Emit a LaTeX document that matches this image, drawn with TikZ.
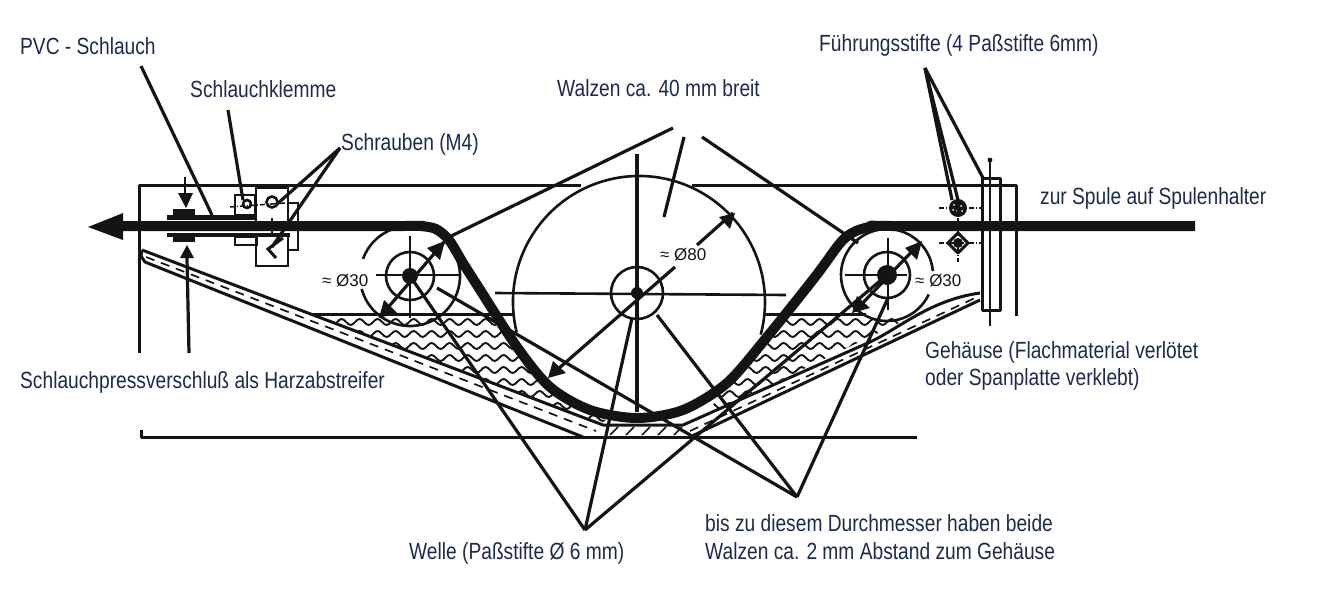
\documentclass[tikz,border=0pt]{standalone}
\usepackage{fontspec}
\setmainfont[FakeStretch=0.82]{Liberation Sans}
\newfontfamily\dimfont[FakeStretch=1.0]{Liberation Sans}
\usetikzlibrary{decorations.pathmorphing,calc}
\definecolor{txt}{HTML}{1B2A4E}
\definecolor{ink}{HTML}{141414}
\tikzset{
  lbl/.style={font=\fontsize{23.4}{27.5}\selectfont,text=txt,inner sep=0pt,anchor=west,align=left},
  dim/.style={font=\dimfont\fontsize{17}{20}\selectfont,text=ink,inner sep=0pt,anchor=west},
  body/.style={draw=ink,line width=3pt,line join=round},
  thinl/.style={draw=ink,line width=2.6pt},
  leader/.style={draw=ink,line width=3.2pt},
  belt/.style={draw=ink,line width=10pt,line join=round},
  wave/.style={draw=ink,line width=1.9pt,decorate,decoration={snake,amplitude=3pt,segment length=18pt}},
  hatchl/.style={draw=ink,line width=1.7pt,dash pattern=on 9pt off 7pt},
  chain/.style={draw=ink,line width=1.5pt,dash pattern=on 5pt off 2pt on 1pt off 2pt},
  head/.style={fill=ink,draw=none}
}
\begin{document}
\begin{tikzpicture}[x=1pt,y=-1pt]
\useasboundingbox (0,0) rectangle (1336,602);
% resin, left and right
\begin{scope}
\clip (310,314) -- (496,314) -- (517,347) -- (550,387) -- (590,410) -- (606,421) -- (603,425) -- cycle;
\foreach \y in {322,334,...,425} \draw[wave] (300,\y) -- (620,\y);
\end{scope}
\begin{scope}
\clip (786,314) -- (866,314) -- (905,320) -- (683,427) -- (700,418) -- (727,390) -- (767,345) -- cycle;
\foreach \y in {322,334,...,425} \draw[wave] (670,\y) -- (920,\y);
\end{scope}
% hatch in the trough wall
\draw[hatchl] (146,257) -- (596,431);
\draw[hatchl] (690,431) -- (975,298);
\foreach \x in {610,626,...,674} \draw[draw=ink,line width=1.6pt] (\x,435) -- (\x+8,427);
% housing
\draw[body] (139,353) -- (139,185) -- (581,185);
\draw[body] (692,185) -- (1016,185) -- (1016,316);
\draw[body] (141,430) -- (141,437) -- (917,437);
\draw[body] (142,250) -- (603,425) -- (683,425) -- (870,342) .. controls (900,328) and (930,300) .. (980,293);
\draw[body] (142,250) -- (141,256) -- (145,262) -- (583,437);
\draw[body] (690,437) -- (980,300);
\draw[body] (310,314) -- (513,314);
\draw[body] (765,314) -- (866,314);
% end plate
\draw[body] (982,178) rectangle (1000,310);
\draw[thinl] (990,160) -- (990,326);
\fill[head] (990,160) circle (2.4);
% guide pins
\fill[ink] (958,208) circle (9);
\fill[white] (954,205) circle (1) (961,206) circle (1) (957,211) circle (1) (953,210) circle (1) (962,211) circle (1);
\draw[chain] (939,208) -- (981,208);
\draw[chain] (958,208) -- (958,262);
\draw[chain] (939,243) -- (981,243);
\draw[body] (958,233) -- (968,243) -- (958,253) -- (948,243) -- cycle;
\fill[ink] (958,243) circle (5);
% left clamp
\draw[draw=ink,line width=2pt] (235,195) rectangle (255,215);
\draw[draw=ink,line width=2pt] (235,237) rectangle (257,245);
\draw[thinl] (256,188) rectangle (288,222);
\draw[thinl] (256,235) rectangle (288,266);
\draw[thinl] (288,203) -- (298,203) -- (298,250) -- (288,250);
\draw[thinl] (272,202) circle (5.5);
\draw[thinl] (247,204) circle (4);
\draw[chain] (230,207) -- (285,203);
\draw[chain] (272,218) -- (272,236);
\draw[draw=ink,line width=3pt,line join=miter] (283,238) -- (268,249) -- (276,258);
\fill[head] (167,215) rectangle (255,220);
\fill[head] (173,209) rectangle (195,216);
\fill[head] (167,233) rectangle (290,237);
\fill[head] (173,236) rectangle (195,242);
\draw[thinl] (185,177) -- (185,194);
\fill[head] (178,193) -- (193,193) -- (186,208) -- cycle;
\fill[head] (187,245) -- (194,258) -- (180,258) -- cycle;
\draw[leader] (187,258) -- (189,353);
% rollers
\draw[thinl] (410,276) ++(-160:50) arc (-160:165:50);
\draw[thinl] (410,276) circle (24);
\fill[ink] (410,276) circle (8);
\draw[thinl] (376,275) -- (460,275);
\draw[thinl] (410,236) -- (410,318);
\draw[thinl] (639,302) ++(166:126) arc (166:375:126);
\draw[thinl] (637,293) circle (26);
\fill[ink] (637,293) circle (6);
\draw[thinl] (495,293) -- (786,295);
\draw[draw=ink,line width=3.2pt] (637,154) -- (637,412);
\draw[thinl] (887,275) ++(25:46) arc (25:355:46);
\draw[thinl] (887,275) circle (23);
\fill[ink] (887,275) circle (10);
\draw[thinl] (845,275) -- (907,275);
\draw[thinl] (888,238) -- (888,310);
% belt
\draw[belt] plot[smooth,tension=0.5] coordinates {(120,226) (400,226) (420,226) (436,229) (449,240) (463,263) (477,285) (517,347) (550,387) (590,410) (637,418) (683,410) (727,383) (767,337) (815,277) (841,242) (856,231) (875,226) (895,226) (1195,226)};
\fill[head] (88,227) -- (123,213) -- (123,240) -- cycle;
% dimension arrows
\draw[leader] (385,311) -- (445,241);
\fill[head] (379,318) -- (384,300) -- (397,313) -- cycle;
\fill[head] (445,241) -- (427,248) -- (440,260) -- cycle;
\draw[leader] (550,376) -- (675,267);
\draw[leader] (697,245) -- (733,213);
\fill[head] (548,378) -- (553,361) -- (566,373) -- cycle;
\fill[head] (735,213) -- (719,217) -- (730,229) -- cycle;
\draw[leader] (856,310) -- (920,243);
\fill[head] (852,313) -- (857,296) -- (870,308) -- cycle;
\fill[head] (922,241) -- (905,248) -- (917,260) -- cycle;
% labels
\node[lbl] (pvc) at (20,46) {PVC - Schlauch};
\node[lbl] (klemme) at (190,89) {Schlauchklemme};
\node[lbl] (schrauben) at (341,144) {Schrauben (M4)};
\node[lbl] (walzen) at (557,88) {Walzen ca. 40 mm breit};
\node[lbl] (fuehrung) at (819,45) {Führungsstifte (4 Paßstifte 6mm)};
\node[lbl] (spule) at (1040,198) {zur Spule auf Spulenhalter};
\node[lbl] (gehaeuse) at (925,366) {Gehäuse (Flachmaterial verlötet\\oder Spanplatte verklebt)};
\node[lbl] (press) at (20,382) {Schlauchpressverschluß als Harzabstreifer};
\node[lbl] (welle) at (409,553) {Welle (Paßstifte Ø 6 mm)};
\node[lbl] (bis) at (705,537) {bis zu diesem Durchmesser haben beide\\Walzen ca. 2 mm Abstand zum Gehäuse};
\node[dim] (d1) at (322,281) {≈ Ø30};
\node[dim] (d2) at (660,255) {≈ Ø80};
\node[dim] (d3) at (915,281) {≈ Ø30};
% leader anchors
\coordinate (tpvc) at (141,66);
\coordinate (tkl) at (228,110);
\coordinate (tsc) at (340,148);
\coordinate (twl) at (673,128);
\coordinate (twm) at (684,137);
\coordinate (twr) at (702,137);
\coordinate (tfu) at (925,68);
\coordinate (tw) at (585,530);
\coordinate (tb) at (797,497);
\coordinate (a1) at (212,215);
\coordinate (a2) at (243,200);
\coordinate (a3) at (276,205);
\coordinate (a4) at (272,247);
\coordinate (a5) at (443,240);
\coordinate (a6) at (664,217);
\coordinate (a7) at (858,243);
\coordinate (a8) at (952,200);
\coordinate (a9) at (958,200);
\coordinate (a10) at (983,178);
\coordinate (b1) at (410,276);
\coordinate (b2) at (632,318);
\coordinate (b3) at (887,275);
\coordinate (c1) at (437,288);
\coordinate (c2) at (657,315);
\coordinate (c3) at (888,298);
\draw[leader] (tpvc) -- (a1);
\draw[leader] (tkl) -- (a2);
\draw[leader] (tsc) -- (a3);
\draw[leader] (tsc) -- (a4);
\draw[leader] (twl) -- (a5);
\draw[leader] (twm) -- (a6);
\draw[leader] (twr) -- (a7);
\draw[leader] (tfu) -- (a8);
\draw[leader] (tfu) -- (a9);
\draw[leader] (tfu) -- (a10);
\draw[leader] (tw) -- (b1);
\draw[leader] (tw) -- (b2);
\draw[leader] (tw) -- (b3);
\draw[leader] (tb) -- (c1);
\draw[leader] (tb) -- (c2);
\draw[leader] (tb) -- (c3);
\end{tikzpicture}
\end{document}
